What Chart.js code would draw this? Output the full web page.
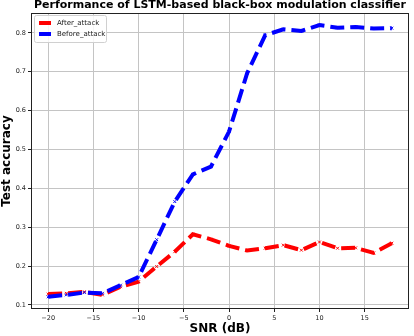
<!DOCTYPE html>
<html lang="en">
<head>
    <meta charset="UTF-8">
    <title>LSTM black-box classifier</title>
    <style>
        html, body { margin: 0; padding: 0; background: #fff; }
        #wrap { width: 414px; height: 336px; }
    </style>
    <script src="https://cdn.jsdelivr.net/npm/chart.js@4.4.6/dist/chart.umd.min.js"></script>
</head>
<body>
    <div id="wrap"><canvas id="snrChart" width="414" height="336"></canvas></div>
    <script>
        // values
        const snrValues = [-20, -18, -16, -14, -12, -10, -8, -6, -4, -2, 0, 2, 4, 6, 8, 10, 12, 14, 16, 18];
        const afterAttack = [0.128, 0.130, 0.134, 0.126, 0.147, 0.160, 0.199, 0.237, 0.282, 0.269,
                             0.252, 0.240, 0.246, 0.254, 0.241, 0.262, 0.246, 0.247, 0.234, 0.259];
        const beforeAttack = [0.121, 0.126, 0.132, 0.130, 0.151, 0.172, 0.268, 0.366, 0.436, 0.456,
                              0.546, 0.696, 0.794, 0.809, 0.805, 0.820, 0.813, 0.815, 0.811, 0.812];
        const xTicks = [-20, -15, -10, -5, 0, 5, 10, 15];
        const yTicks = [0.1, 0.2, 0.3, 0.4, 0.5, 0.6, 0.7, 0.8];
        const seriesNames = ['After_attack', 'Before_attack'];

        const font = 'DejaVu Sans';

        function toPoints(ys) {
            return snrValues.map((x, i) => ({ x: x, y: ys[i] }));
        }

        // title, frame and legend drawn on top of the plot
        const extras = {
            id: 'extras',
            afterDraw(chart) {
                const ctx = chart.ctx;
                const a = chart.chartArea;
                ctx.save();
                // title
                ctx.fillStyle = '#000';
                ctx.font = 'bold 11px "' + font + '"';
                ctx.textAlign = 'center';
                ctx.textBaseline = 'middle';
                ctx.fillText('Performance of LSTM-based black-box modulation classifier', (a.left + a.right) / 2, 5);

                // frame
                ctx.strokeStyle = '#222';
                ctx.lineWidth = 1;
                ctx.strokeRect(a.left + 0.5, a.top + 0.5, a.right - a.left - 1, a.bottom - a.top - 1);

                // legend
                const lx = a.left + 3, ly = a.top + 2, lw = 72, lh = 27;
                ctx.fillStyle = 'rgba(255,255,255,0.85)';
                ctx.strokeStyle = '#d0d0d0';
                ctx.beginPath();
                ctx.roundRect(lx + 0.5, ly + 0.5, lw, lh, 2);
                ctx.fill();
                ctx.stroke();
                ctx.font = '7px "' + font + '"';
                ctx.textAlign = 'left';
                chart.data.datasets.forEach((ds, i) => {
                    const y = ly + 8 + i * 11;
                    ctx.strokeStyle = ds.borderColor;
                    ctx.lineWidth = 4;
                    ctx.beginPath();
                    ctx.moveTo(lx + 5, y);
                    ctx.lineTo(lx + 17, y);
                    ctx.stroke();
                    ctx.fillStyle = '#222';
                    ctx.fillText(ds.label, lx + 23, y + 0.5);
                });
                ctx.restore();
            }
        };

        new Chart(document.getElementById('snrChart'), {
            type: 'line',
            data: {
                datasets: [{
                    label: seriesNames[0],
                    data: toPoints(afterAttack),
                    borderColor: '#ff0000',
                    backgroundColor: '#ff0000',
                    borderWidth: 4,
                    borderDash: [14, 6],
                    pointStyle: 'crossRot',
                    pointRadius: 2,
                    pointBorderWidth: 1,
                    tension: 0,
                    order: 1
                }, {
                    label: seriesNames[1],
                    data: toPoints(beforeAttack),
                    borderColor: '#0000ff',
                    backgroundColor: '#0000ff',
                    borderWidth: 4,
                    borderDash: [14, 6],
                    pointStyle: 'crossRot',
                    pointRadius: 2,
                    pointBorderWidth: 1,
                    tension: 0,
                    order: 0
                }]
            },
            options: {
                responsive: false,
                animation: false,
                layout: { padding: { top: 13, right: 4, left: 0, bottom: 0 } },
                plugins: {
                    legend: { display: false },
                    tooltip: { enabled: false }
                },
                scales: {
                    x: {
                        type: 'linear',
                        min: -21.9,
                        max: 19.9,
                        afterBuildTicks: s => { s.ticks = xTicks.map(v => ({ value: v })); },
                        afterFit: s => { s.height = 27; },
                        grid: { color: '#c4c4c4', tickColor: '#222', tickLength: 3 },
                        border: { display: false },
                        ticks: {
                            color: '#222',
                            padding: 2,
                            maxRotation: 0,
                            font: { family: font, size: 6.5 },
                            callback: v => String(v).replace('-', '\u2212')
                        },
                        title: {
                            display: true,
                            text: 'SNR (dB)',
                            color: '#000',
                            padding: 0,
                            font: { family: font, size: 12, weight: 'bold' }
                        }
                    },
                    y: {
                        min: 0.0897,
                        max: 0.851,
                        afterBuildTicks: s => { s.ticks = yTicks.map(v => ({ value: v })); },
                        afterFit: s => { s.width = 31; },
                        grid: { color: '#c4c4c4', tickColor: '#222', tickLength: 3 },
                        border: { display: false },
                        ticks: {
                            color: '#222',
                            padding: 2,
                            font: { family: font, size: 6.5 },
                            callback: v => v.toFixed(1)
                        },
                        title: {
                            display: true,
                            text: 'Test accuracy',
                            color: '#000',
                            padding: 0,
                            font: { family: font, size: 12, weight: 'bold' }
                        }
                    }
                }
            },
            plugins: [extras]
        });
    </script>
</body>
</html>
